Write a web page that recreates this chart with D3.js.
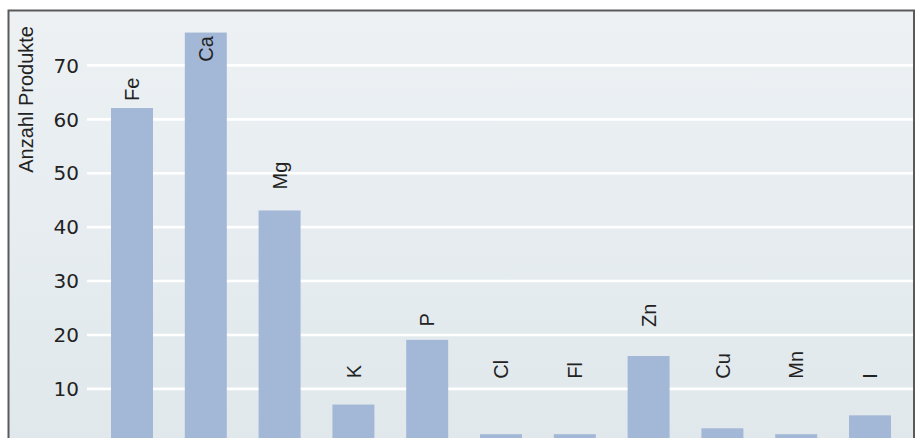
<!DOCTYPE html>
<html>
<head>
<meta charset="utf-8">
<script src="https://cdn.jsdelivr.net/npm/d3@7/dist/d3.min.js"></script>
<style>
html, body { margin: 0; padding: 0; background: #ffffff; }
svg { display: block; }
</style>
</head>
<body>
<svg id="chart" width="916" height="438"></svg>
<script>
// ---- data ----
const categories = ["Fe", "Ca", "Mg", "K", "P", "Cl", "Fl", "Zn", "Cu", "Mn", "I"];
const counts     = [62, 76, 43, 7, 19, 1.5, 1.5, 16, 2.6, 1.5, 5];
// level (in axis units) at which each element label starts
const labelLevels = [63.3, 70.6, 46.9, 11.9, 21.5, 11.8, 11.8, 21.4, 11.8, 11.8, 11.8];
const yTicks = [10, 20, 30, 40, 50, 60, 70];
const yTitle = "Anzahl Produkte";

// ---- layout ----
const W = 916, H = 438;
const frame = { left: 8.5, right: 914, top: 10.5 };
const svg = d3.select("#chart");

const defs = svg.append("defs");
const grad = defs.append("linearGradient").attr("id", "bg").attr("x1", 0).attr("y1", 0).attr("x2", 0).attr("y2", 1);
grad.append("stop").attr("offset", "0%").attr("stop-color", "#edf1f4");
grad.append("stop").attr("offset", "100%").attr("stop-color", "#e0e8ec");

svg.append("rect")
  .attr("x", frame.left).attr("y", frame.top)
  .attr("width", frame.right - frame.left).attr("height", H - frame.top + 2)
  .attr("fill", "url(#bg)");

const x = d3.scaleBand().domain(categories).range([88.5, 913.5]).paddingInner(0.431).paddingOuter(0.305);
const y = d3.scaleLinear().domain([0, 80]).range([442.3, 11]);

// gridlines via axis
const grid = svg.append("g")
  .attr("transform", `translate(87,0)`)
  .call(d3.axisLeft(y).tickValues(yTicks).tickSize(-(frame.right - 87)).tickFormat(""));
grid.select(".domain").remove();
grid.selectAll(".tick line").attr("stroke", "#ffffff").attr("stroke-width", 2.6);

// tick labels
const ax = svg.append("g")
  .attr("transform", `translate(79,0)`)
  .call(d3.axisLeft(y).tickValues(yTicks).tickSize(0).tickPadding(0).tickFormat(d3.format("d")));
ax.select(".domain").remove();
ax.selectAll(".tick text")
  .attr("font-family", "'DejaVu Sans', sans-serif")
  .attr("font-size", 20)
  .attr("fill", "#222")
  .attr("dy", "0.36em");

// bars
svg.append("g").selectAll("rect")
  .data(categories)
  .join("rect")
  .attr("x", d => x(d))
  .attr("width", x.bandwidth())
  .attr("y", (d, i) => y(counts[i]))
  .attr("height", (d, i) => y(0) - y(counts[i]))
  .attr("fill", "#a3b7d6");

// element labels
svg.append("g").selectAll("text")
  .data(categories)
  .join("text")
  .attr("transform", (d, i) => `translate(${x(d) + x.bandwidth() / 2},${y(labelLevels[i])}) rotate(-90)`)
  .attr("dy", "0.36em")
  .attr("text-anchor", "start")
  .attr("font-family", "'Liberation Sans', Arial, sans-serif")
  .attr("font-size", 20)
  .attr("fill", "#222")
  .text(d => d);

// y title
svg.append("text")
  .attr("transform", `translate(33,26) rotate(-90)`)
  .attr("text-anchor", "end")
  .attr("font-family", "'Liberation Sans', Arial, sans-serif")
  .attr("font-size", 20)
  .attr("fill", "#222")
  .text(yTitle);

// frame
const fr = svg.append("g").attr("stroke", "#5a5a5a").attr("stroke-width", 2).attr("fill", "none");
fr.append("path").attr("d", `M${frame.left},${H + 2} V${frame.top} H${frame.right} V${H + 2}`);
</script>
</body>
</html>
